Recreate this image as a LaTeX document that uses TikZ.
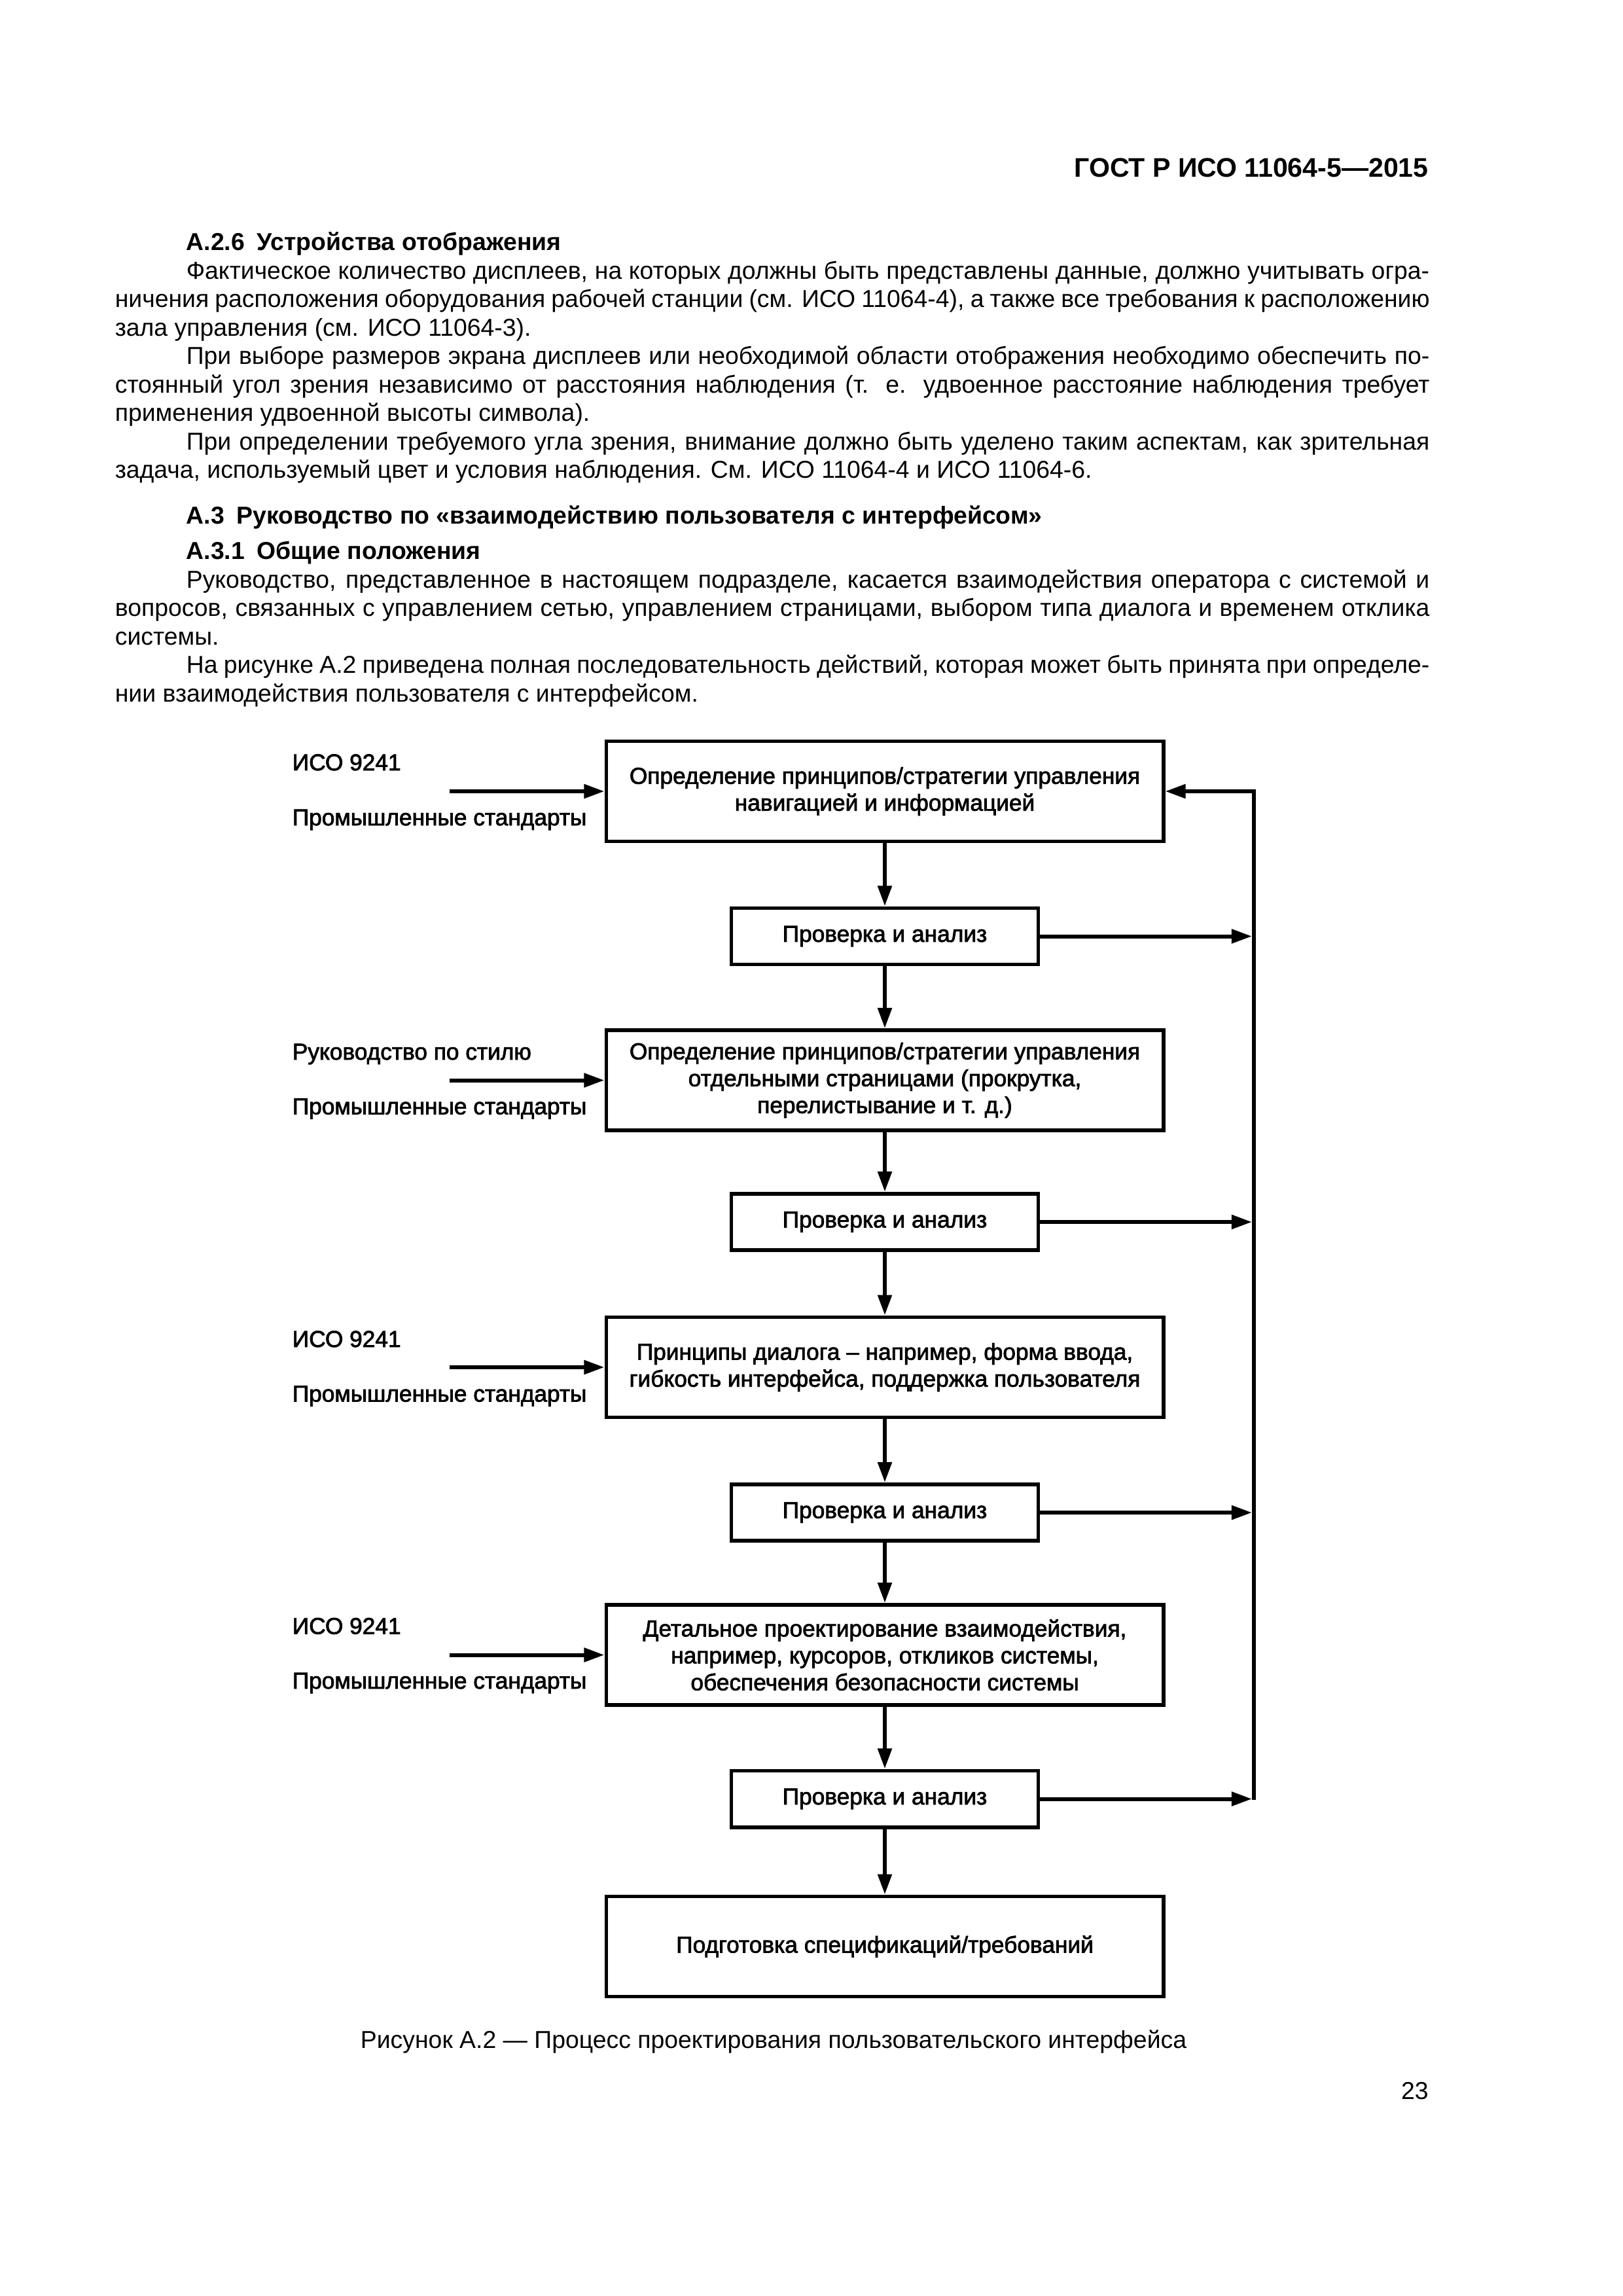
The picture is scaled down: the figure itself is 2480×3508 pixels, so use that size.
\documentclass[tikz,border=0pt]{standalone}
\usepackage{fontspec}
\setmainfont{Liberation Sans}
\newfontfamily\figfam[FakeBold=2.2]{Liberation Sans}
\usetikzlibrary{arrows.meta}
\newcommand\fullline[1]{\makebox[483.9pt][s]{#1}}
\newcommand\indline[1]{\makebox[457.6pt][s]{#1}}
\begin{document}
\begin{tikzpicture}[x=0.0846774mm,y=-0.0846774mm,
  body/.style={inner sep=0pt, anchor=base west, font=\fontsize{9}{10.5}\selectfont},
  bodyb/.style={body, font=\fontsize{9}{10.5}\selectfont\bfseries},
  box/.style={draw, line width=1.35pt, align=center, inner sep=2pt,
    font=\figfam\fontsize{8.5}{9.9}\selectfont},
  bigbox/.style={box, minimum width=205.1pt, minimum height=36.9pt},
  smallbox/.style={box, minimum width=113pt, minimum height=20.8pt},
  lab/.style={inner sep=0pt, anchor=base west, font=\figfam\fontsize{8.5}{9.9}\selectfont},
  tip/.style={-{Triangle[length=7.5pt,width=5pt]}},
  vline/.style={line width=1.45pt, tip},
  harrow/.style={line width=1.45pt, tip},
  fbline/.style={line width=1.45pt}
]
\fill[white] (0,0) rectangle (2480,3508);
\useasboundingbox (0,0) rectangle (2480,3508);

% ---- page text ----
\node[body, anchor=base east, font=\fontsize{9.9}{12}\selectfont\bfseries] (hdr) at (2183.5,270) {ГОСТ Р ИСО 11064-5—2015};
\node[bodyb] (t1) at (284,382) {А.2.6\enspace Устройства отображения};
\node[body] (t2) at (284,426) {\indline{Фактическое количество дисплеев, на которых должны быть представлены данные, должно учитывать огра-}};
\node[body] (t3) at (175,469.5) {\fullline{ничения расположения оборудования рабочей станции (см. ИСО 11064-4), а также все требования к расположению}};
\node[body] (t4) at (175,513) {зала управления (см. ИСО 11064-3).};
\node[body] (t5) at (284,556.5) {\indline{При выборе размеров экрана дисплеев или необходимой области отображения необходимо обеспечить по-}};
\node[body] (t6) at (175,600) {\fullline{стоянный угол зрения независимо от расстояния наблюдения (т. е. удвоенное расстояние наблюдения требует}};
\node[body] (t7) at (175,643.5) {применения удвоенной высоты символа).};
\node[body] (t8) at (284,687) {\indline{При определении требуемого угла зрения, внимание должно быть уделено таким аспектам, как зрительная}};
\node[body] (t9) at (175,730.5) {задача, используемый цвет и условия наблюдения. См. ИСО 11064-4 и ИСО 11064-6.};
\node[bodyb] (t10) at (284,800) {А.3\enspace Руководство по «взаимодействию пользователя с интерфейсом»};
\node[bodyb] (t11) at (284,854) {А.3.1\enspace Общие положения};
\node[body] (t12) at (284,898) {\indline{Руководство, представленное в настоящем подразделе, касается взаимодействия оператора с системой и}};
\node[body] (t13) at (175,941.5) {\fullline{вопросов, связанных с управлением сетью, управлением страницами, выбором типа диалога и временем отклика}};
\node[body] (t14) at (175,985) {системы.};
\node[body] (t15) at (284,1028.5) {\indline{На рисунке А.2 приведена полная последовательность действий, которая может быть принята при определе-}};
\node[body] (t16) at (175,1072) {нии взаимодействия пользователя с интерфейсом.};

% ---- figure ----
\node[bigbox] (b1) at (1352,1209) {Определение принципов/стратегии управления\\навигацией и информацией};
\node[smallbox] (s1) at (1352,1430.5) {Проверка и анализ};
\node[bigbox] (b2) at (1352,1650.5) {Определение принципов/стратегии управления\\отдельными страницами (прокрутка,\\перелистывание и т. д.)};
\node[smallbox] (s2) at (1352,1867) {Проверка и анализ};
\node[bigbox] (b3) at (1352,2089) {Принципы диалога – например, форма ввода,\\гибкость интерфейса, поддержка пользователя};
\node[smallbox] (s3) at (1352,2311) {Проверка и анализ};
\node[bigbox] (b4) at (1352,2528.5) {Детальное проектирование взаимодействия,\\например, курсоров, откликов системы,\\обеспечения безопасности системы};
\node[smallbox] (s4) at (1352,2748.5) {Проверка и анализ};
\node[bigbox] (b5) at (1352,2974) {Подготовка спецификаций/требований};

\node[lab] (la1) at (446,1177) {ИСО 9241};
\node[lab] (lb1) at (446,1261) {Промышленные стандарты};
\node[lab] (la2) at (446,1619) {Руководство по стилю};
\node[lab] (lb2) at (446,1702.5) {Промышленные стандарты};
\node[lab] (la3) at (446,2058) {ИСО 9241};
\node[lab] (lb3) at (446,2141.5) {Промышленные стандарты};
\node[lab] (la4) at (446,2496.5) {ИСО 9241};
\node[lab] (lb4) at (446,2580) {Промышленные стандарты};

\coordinate (inx) at (687,0);
\coordinate (fbx) at (1916,0);

\foreach \b in {b1,b2,b3,b4}{
  \draw[harrow] (\b.west -| inx) -- (\b.west);
}
\draw[vline] (b1.south) -- (s1.north);
\draw[vline] (s1.south) -- (b2.north);
\draw[vline] (b2.south) -- (s2.north);
\draw[vline] (s2.south) -- (b3.north);
\draw[vline] (b3.south) -- (s3.north);
\draw[vline] (s3.south) -- (b4.north);
\draw[vline] (b4.south) -- (s4.north);
\draw[vline] (s4.south) -- (b5.north);

\foreach \s in {s1,s2,s3,s4}{
  \draw[harrow, shorten >=0.7pt] (\s.east) -- (\s.east -| fbx);
}
\draw[fbline] ([yshift=-0.3pt]fbx |- s4.east) -- ([yshift=0.725pt]fbx |- b1.east);
\draw[harrow] ([xshift=0.725pt]fbx |- b1.east) -- (b1.east);

% ---- caption & page number ----
\node[body, anchor=base] (cap) at (1182,3129) {Рисунок А.2 — Процесс проектирования пользовательского интерфейса};
\node[body, anchor=base east] (pg) at (2183.5,3207) {23};
\end{tikzpicture}
\end{document}
